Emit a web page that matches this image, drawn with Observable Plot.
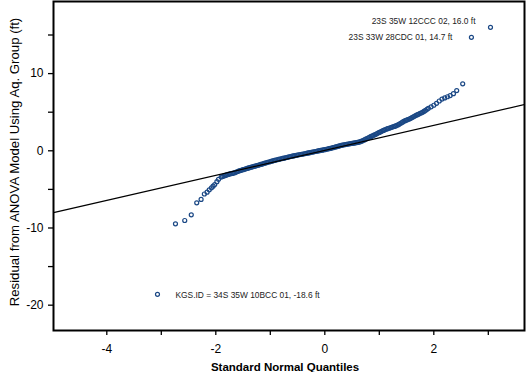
<!DOCTYPE html>
<html><head><meta charset="utf-8">
<script src="https://cdn.jsdelivr.net/npm/d3@7"></script>
<script src="https://cdn.jsdelivr.net/npm/@observablehq/plot@0.6"></script>
<style>body{margin:0;background:#fff} svg{display:block}</style>
</head><body><div id="chart"></div>
<script>
// Standard normal quantiles (x) and residuals in ft (y)
const quantiles = [
  -3.07, -2.74, -2.57, -2.45, -2.35, -2.27, -2.21, -2.16, -2.12, -2.08, -2.05, -2.02, -1.98, -1.95,
  -1.900, -1.875, -1.850, -1.825, -1.800, -1.775, -1.750, -1.725, -1.700, -1.675, -1.650, -1.625,
  -1.600, -1.575, -1.550, -1.525, -1.500, -1.475, -1.450, -1.425, -1.400, -1.375, -1.350, -1.325,
  -1.300, -1.275, -1.250, -1.225, -1.200, -1.175, -1.150, -1.125, -1.100, -1.075, -1.050, -1.025,
  -1.000, -0.975, -0.950, -0.925, -0.900, -0.875, -0.850, -0.825, -0.800, -0.775, -0.750, -0.725,
  -0.700, -0.675, -0.650, -0.625, -0.600, -0.575, -0.550, -0.525, -0.500, -0.475, -0.450, -0.425,
  -0.400, -0.375, -0.350, -0.325, -0.300, -0.275, -0.250, -0.225, -0.200, -0.175, -0.150, -0.125,
  -0.100, -0.075, -0.050, -0.025, 0.000, 0.025, 0.050, 0.075, 0.100, 0.125, 0.150, 0.175,
  0.200, 0.225, 0.250, 0.275, 0.300, 0.325, 0.350, 0.375, 0.400, 0.425, 0.450, 0.475,
  0.500, 0.525, 0.550, 0.575, 0.600, 0.625, 0.650, 0.675, 0.700, 0.725, 0.750, 0.775,
  0.800, 0.825, 0.850, 0.875, 0.900, 0.925, 0.950, 0.975, 1.000, 1.025, 1.050, 1.075,
  1.100, 1.125, 1.150, 1.175, 1.200, 1.225, 1.250, 1.275, 1.300, 1.325, 1.350, 1.375,
  1.400, 1.425, 1.450, 1.475, 1.500, 1.525, 1.550, 1.575, 1.600, 1.625, 1.650, 1.675,
  1.700, 1.725, 1.750, 1.775, 1.800, 1.825, 1.850, 1.875, 1.900, 1.950, 2.000, 2.050, 2.100,
  2.15, 2.20, 2.25, 2.30, 2.36, 2.42, 2.53, 2.69, 3.04
];
const residuals = [
  -18.6, -9.46, -9.03, -8.30, -6.74, -6.30, -5.60, -5.36, -5.05, -4.80, -4.58, -4.37, -4.00, -3.70,
  -3.40, -3.33, -3.25, -3.19, -3.12, -3.06, -3.02, -2.97, -2.93, -2.89, -2.84, -2.75,
  -2.68, -2.61, -2.55, -2.50, -2.45, -2.39, -2.33, -2.28, -2.22, -2.17, -2.12, -2.07,
  -2.02, -1.97, -1.92, -1.87, -1.82, -1.77, -1.72, -1.66, -1.60, -1.55, -1.50, -1.45,
  -1.40, -1.35, -1.30, -1.25, -1.20, -1.16, -1.12, -1.07, -1.03, -0.99, -0.95, -0.91,
  -0.87, -0.82, -0.78, -0.74, -0.70, -0.66, -0.62, -0.58, -0.55, -0.51, -0.48, -0.45,
  -0.42, -0.38, -0.35, -0.31, -0.28, -0.24, -0.20, -0.16, -0.13, -0.09, -0.06, -0.02,
  0.02, 0.05, 0.08, 0.12, 0.15, 0.19, 0.23, 0.27, 0.31, 0.36, 0.40, 0.45,
  0.50, 0.55, 0.60, 0.65, 0.70, 0.74, 0.77, 0.81, 0.84, 0.87, 0.90, 0.93,
  0.95, 0.99, 1.02, 1.05, 1.08, 1.12, 1.18, 1.25, 1.32, 1.41, 1.50, 1.59,
  1.68, 1.77, 1.86, 1.94, 2.02, 2.11, 2.20, 2.29, 2.38, 2.47, 2.55, 2.64,
  2.72, 2.79, 2.86, 2.92, 2.98, 3.04, 3.10, 3.16, 3.22, 3.30, 3.38, 3.49,
  3.60, 3.71, 3.82, 3.90, 3.98, 4.05, 4.12, 4.21, 4.30, 4.40, 4.50, 4.59,
  4.68, 4.76, 4.85, 4.93, 5.02, 5.13, 5.25, 5.38, 5.50, 5.70, 5.90, 6.15, 6.45,
  6.70, 6.85, 7.00, 7.15, 7.40, 7.80, 8.68, 14.7, 16.0
];

const xTickValues = [-4, -2, 0, 2];
const xMinorTicks = [-3, -1, 1, 3];
const yTickValues = [-20, -10, 0, 10];
const yMinorTicks = [-15, -5, 5, 15];

const labelTexts = ["23S 35W 12CCC 02, 16.0 ft", "23S 33W 28CDC 01, 14.7 ft", "KGS.ID = 34S 35W 10BCC 01, -18.6 ft"];
const labelQuantiles = [3.04, 2.69, -3.07];
const labelResiduals = [16.0, 14.7, -18.6];

const refIntercept = 0.05;
const refSlope = 1.62;

const xTitle = "Standard Normal Quantiles";
const yTitle = "Residual from ANOVA Model Using Aq. Group (ft)";

const xDomain = [-4.978, 3.664];
const yDomain = [-23.28, 19.34];

const points = quantiles.map((q, i) => ({q, r: residuals[i]}));
const labels = labelTexts.map((t, i) => ({t, q: labelQuantiles[i], r: labelResiduals[i]}));
const refLine = xDomain.map(q => ({q, r: refIntercept + refSlope * q}));

const font = "Arial, 'Liberation Sans', Helvetica, sans-serif";

const chart = Plot.plot({
  width: 530,
  height: 372,
  marginLeft: 53,
  marginRight: 6,
  marginTop: 1,
  marginBottom: 42,
  style: {fontFamily: font, fontSize: "12px", background: "#fff", color: "#000"},
  x: {domain: xDomain, label: null},
  y: {domain: yDomain, label: null},
  marks: [
    Plot.dot(points, {x: "q", y: "r", r: 2, stroke: "#1b4885", strokeWidth: 1.2, fill: "none"}),
    Plot.line(refLine, {x: "q", y: "r", stroke: "#000", strokeWidth: 1.3, clip: true}),
    Plot.text(labels.slice(0, 1), {x: "q", y: "r", text: "t", textAnchor: "end", dx: -15, dy: -6, fontSize: 8.4, fill: "#222"}),
    Plot.text(labels.slice(1, 2), {x: "q", y: "r", text: "t", textAnchor: "end", dx: -19, dy: 0, fontSize: 8.4, fill: "#222"}),
    Plot.text(labels.slice(2, 3), {x: "q", y: "r", text: "t", textAnchor: "start", dx: 18, dy: 1, fontSize: 8.4, fill: "#222"}),
    Plot.axisX({ticks: xTickValues, tickSize: 5, tickPadding: 9, tickFormat: d => String(d), fontSize: 12, strokeWidth: 1.3, label: null}),
    Plot.axisX({ticks: xMinorTicks, tickSize: 5, tickFormat: () => "", strokeWidth: 1.3, label: null}),
    Plot.axisY({ticks: yTickValues, tickSize: 5, tickPadding: 5, tickFormat: d => String(d), fontSize: 12, strokeWidth: 1.3, label: null}),
    Plot.axisY({ticks: yMinorTicks, tickSize: 5, tickFormat: () => "", strokeWidth: 1.3, label: null}),
    Plot.frame({stroke: "#000", strokeWidth: 2}),
    Plot.text([xTitle], {frameAnchor: "bottom", dx: -4, dy: 37, lineAnchor: "middle", fontSize: 11.5, fontWeight: "bold", fill: "#000"}),
    Plot.text([yTitle], {frameAnchor: "left", textAnchor: "middle", rotate: -90, dx: -38.5, dy: -4, lineAnchor: "middle", fontSize: 13.2, fill: "#000"})
  ]
});
document.getElementById("chart").appendChild(chart);
</script>
</body></html>
